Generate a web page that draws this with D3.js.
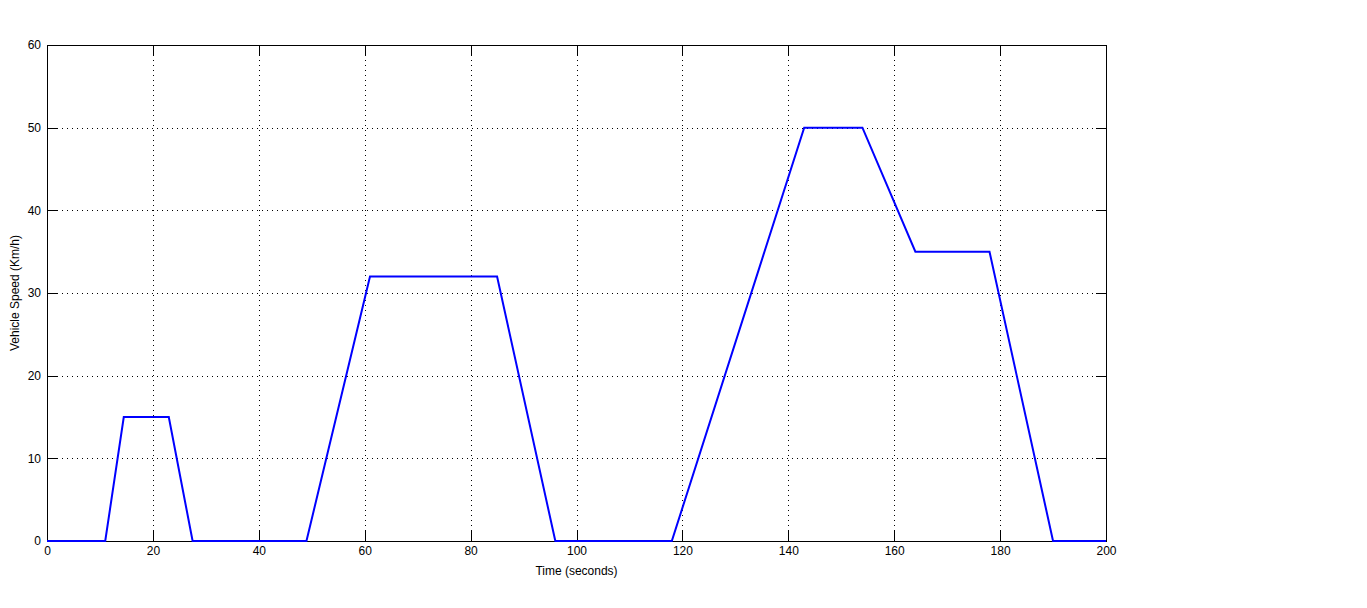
<!DOCTYPE html>
<html>
<head>
<meta charset="utf-8">
<script src="https://cdn.jsdelivr.net/npm/d3@7"></script>
<style>
	body { margin: 0; background: #fff; }
	text { font-family: "Liberation Sans", Arial, sans-serif; font-size: 12px; fill: #000; }
</style>
</head>
<body>
<div id="chart"></div>
<script>
// Speed profile: time (s) and speed (km/h) breakpoints
const times = [0, 11, 14.5, 23, 27.5, 49, 61, 85, 96, 118, 143, 154, 164, 178, 190, 200];
const speeds = [0, 0, 15, 15, 0, 0, 32, 32, 0, 0, 50, 50, 35, 35, 0, 0];
const xTicks = [0, 20, 40, 60, 80, 100, 120, 140, 160, 180, 200];
const yTicks = [0, 10, 20, 30, 40, 50, 60];

const width = 1367;
const height = 608;
const margin = {top: 45, right: 261, bottom: 67, left: 47};
const innerW = width - margin.left - margin.right;
const innerH = height - margin.top - margin.bottom;

const svg = d3
	.select('#chart')
	.append('svg')
	.attr('width', width)
	.attr('height', height);

const g = svg
	.append('g')
	.attr('transform', `translate(${margin.left},${margin.top})`);

const x = d3.scaleLinear().domain([0, 200]).range([0, innerW]);
const y = d3.scaleLinear().domain([0, 60]).range([innerH, 0]);

// dotted grid
g.append('g')
	.selectAll('line')
	.data(xTicks.slice(1, -1))
	.enter()
	.append('line')
	.attr('x1', d => Math.round(x(d)) + 0.5)
	.attr('x2', d => Math.round(x(d)) + 0.5)
	.attr('y1', 0)
	.attr('y2', innerH)
	.attr('stroke', '#000')
	.attr('stroke-dasharray', '1,4')
	.attr('shape-rendering', 'crispEdges');

g.append('g')
	.selectAll('line')
	.data(yTicks.slice(1, -1))
	.enter()
	.append('line')
	.attr('y1', d => Math.round(y(d)) + 0.5)
	.attr('y2', d => Math.round(y(d)) + 0.5)
	.attr('x1', 0)
	.attr('x2', innerW)
	.attr('stroke', '#000')
	.attr('stroke-dasharray', '1,4')
	.attr('shape-rendering', 'crispEdges');

// axes with inward ticks on all four sides
const tick = 10;
g.append('g')
	.attr('transform', `translate(0,${innerH})`)
	.call(d3.axisBottom(x).tickValues(xTicks).tickSizeInner(-tick).tickSizeOuter(0).tickPadding(5));
g.append('g')
	.call(d3.axisTop(x).tickValues(xTicks).tickSizeInner(-tick).tickSizeOuter(0).tickFormat(''));
g.append('g')
	.call(d3.axisLeft(y).tickValues(yTicks).tickSizeInner(-tick).tickSizeOuter(0).tickPadding(6));
g.append('g')
	.attr('transform', `translate(${innerW},0)`)
	.call(d3.axisRight(y).tickValues(yTicks).tickSizeInner(-tick).tickSizeOuter(0).tickFormat(''));

g.selectAll('.domain').attr('stroke', '#000').attr('shape-rendering', 'crispEdges');
g.selectAll('.tick line').attr('stroke', '#000').attr('shape-rendering', 'crispEdges');
g.selectAll('.tick text').style('font-family', '"Liberation Sans", Arial, sans-serif').style('font-size', '12px');

g.append('rect')
	.attr('x', 0.5)
	.attr('y', 0.5)
	.attr('width', innerW)
	.attr('height', innerH)
	.attr('fill', 'none')
	.attr('stroke', '#000')
	.attr('shape-rendering', 'crispEdges');

// speed line
const line = d3
	.line()
	.x(d => x(d[0]))
	.y(d => y(d[1]));

g.append('path')
	.datum(times.map((t, i) => [t, speeds[i]]))
	.attr('d', line)
	.attr('fill', 'none')
	.attr('stroke', '#0000ff')
	.attr('stroke-width', 2);

// labels
svg.append('text')
	.attr('x', margin.left + innerW / 2)
	.attr('y', 575)
	.attr('text-anchor', 'middle')
	.text('Time (seconds)');

svg.append('text')
	.attr('transform', `translate(19,${margin.top + innerH / 2}) rotate(-90)`)
	.attr('text-anchor', 'middle')
	.text('Vehicle Speed (Km/h)');
</script>
</body>
</html>
